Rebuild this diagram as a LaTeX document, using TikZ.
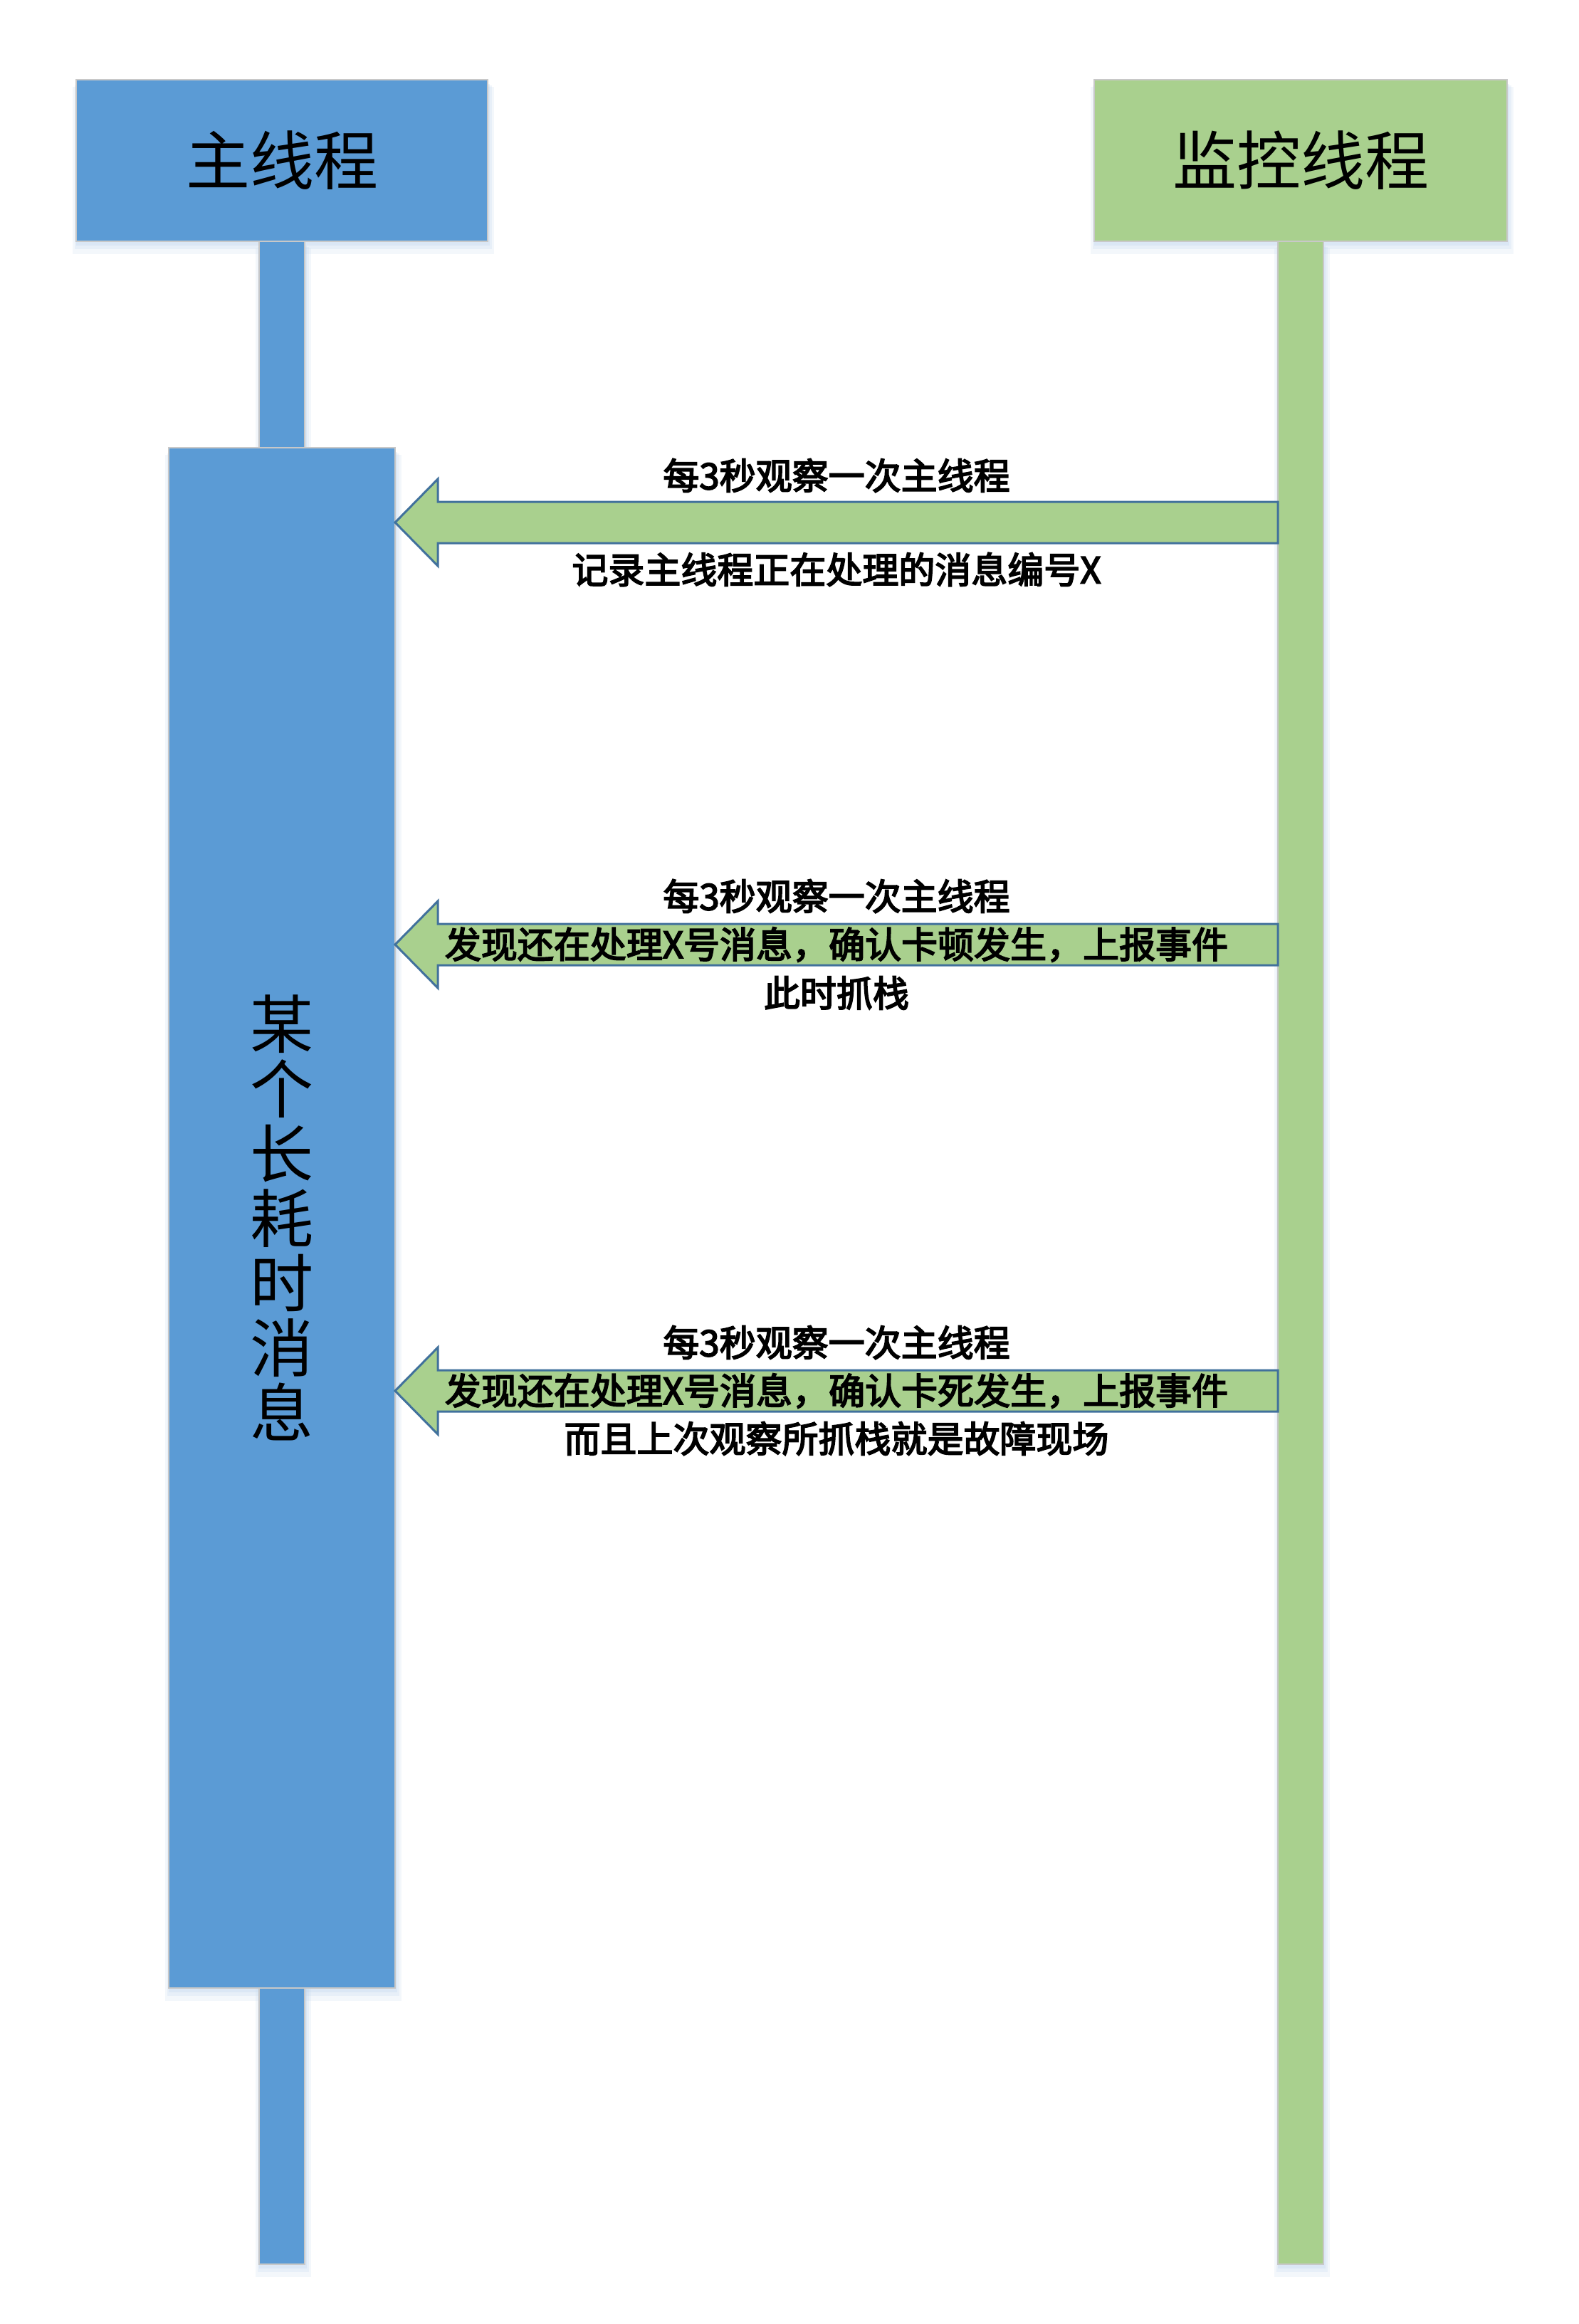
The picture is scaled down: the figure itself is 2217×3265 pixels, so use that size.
\documentclass[tikz,border=0pt]{standalone}
\usepackage{fontspec}
\newfontfamily\cjk{Noto Sans CJK SC}
\newfontfamily\cjkfb[FakeBold=3.5]{Noto Sans CJK SC}
\usetikzlibrary{calc,backgrounds}
\definecolor{mainblue}{HTML}{5B9BD5}
\definecolor{mongreen}{HTML}{A9D08E}
\definecolor{arrowedge}{HTML}{41719C}
\definecolor{edgegrey}{HTML}{C8C8C8}
\definecolor{shadowc}{HTML}{BFD5EE}
\newcommand\mysoftshadow[1]{%
  \fill[shadowc,opacity=0.18] ($(#1.north west)+(-5,10)$) rectangle ($(#1.south east)+(9,18)$);
  \fill[shadowc,opacity=0.22] ($(#1.north west)+(-2,8)$) rectangle ($(#1.south east)+(6,11)$);
  \fill[shadowc,opacity=0.28] ($(#1.north west)+(0,6)$) rectangle ($(#1.south east)+(3,6)$);
}
\begin{document}
\begin{tikzpicture}[x=1pt,y=-1pt,
  box/.style={rectangle, inner sep=0pt, outer sep=0pt, draw=edgegrey, line width=1.5pt},
  headbox/.style={box, minimum height=227pt, font=\cjk\fontsize{90}{94}\selectfont},
  lifebox/.style={box, minimum width=64pt, minimum height=2842pt},
  blockarrow/.style={fill=mongreen, draw=arrowedge, line width=3pt, line join=miter},
  lbl/.style={font=\cjkfb\fontsize{51}{55}\selectfont, inner sep=0pt},
]
\useasboundingbox (0,0) rectangle (2217,3265);

% lifelines
\node[lifebox, fill=mainblue] (mainlife) at (396,1760) {};
\node[lifebox, fill=mongreen] (monlife) at (1827,1760) {};
% headers
\node[headbox, fill=mainblue, minimum width=578pt] (mainhead) at (396,225.5) {主线程};
\node[headbox, fill=mongreen, minimum width=580pt] (monhead) at (1827,225.5) {监控线程};
% activation box
\node[box, fill=mainblue, minimum width=318pt, minimum height=2164pt, align=center,
      font=\cjk\fontsize{89}{91}\selectfont] (act) at (396,1711)
      {某\\个\\长\\耗\\时\\消\\息};

\begin{pgfonlayer}{background}
  \fill[white] (0,0) rectangle (2217,3265);
  \mysoftshadow{mainlife}
  \mysoftshadow{monlife}
  \mysoftshadow{mainhead}
  \mysoftshadow{monhead}
  \mysoftshadow{act}
\end{pgfonlayer}

% arrow rows
\coordinate (ya) at (0,734);
\coordinate (yb) at (0,1327);
\coordinate (yc) at (0,1954);
\foreach \r in {a,b,c}{
  \coordinate (tip\r) at (act.east |- y\r);
  \coordinate (tail\r) at (monlife.west |- y\r);
  \coordinate (mid\r) at ($(tip\r)!0.5!(tail\r)$);
  \draw[blockarrow] (tip\r) -- ++(60,-61) -- ++(0,32) -- ($(tail\r)+(0,-29)$)
     -- ($(tail\r)+(0,29)$) -- ($(tip\r)+(60,29)$) -- ++(0,32) -- cycle;
}

\node[lbl] (a1) at ($(mida)+(0,-66)$) {每3秒观察一次主线程};
\node[lbl] (a2) at ($(mida)+(0,66)$) {记录主线程正在处理的消息编号X};

\node[lbl] (b1) at ($(midb)+(0,-68)$) {每3秒观察一次主线程};
\node[lbl] (b2) at (midb) {发现还在处理X号消息，确认卡顿发生，上报事件};
\node[lbl] (b3) at ($(midb)+(0,68)$) {此时抓栈};

\node[lbl] (c1) at ($(midc)+(0,-68)$) {每3秒观察一次主线程};
\node[lbl] (c2) at (midc) {发现还在处理X号消息，确认卡死发生，上报事件};
\node[lbl] (c3) at ($(midc)+(0,67)$) {而且上次观察所抓栈就是故障现场};
\end{tikzpicture}
\end{document}
